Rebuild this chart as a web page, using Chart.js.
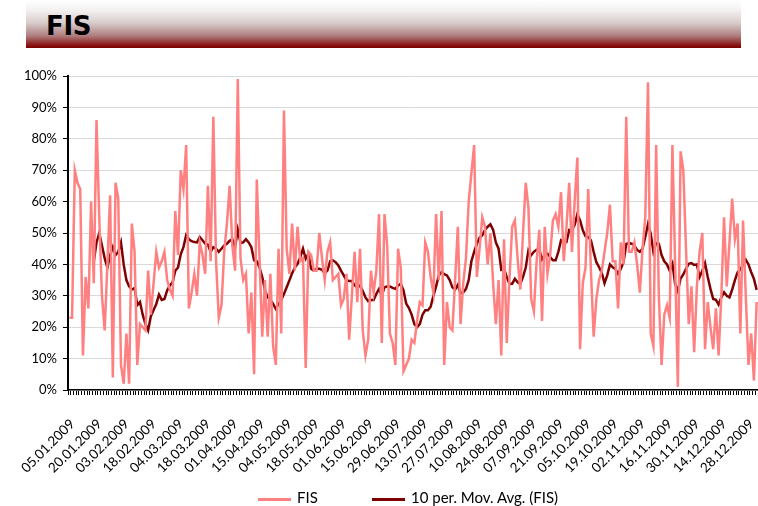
<!DOCTYPE html>
<html>
<head>
<meta charset="utf-8">
<script src="https://cdn.jsdelivr.net/npm/chart.js@4.4.1/dist/chart.umd.min.js"></script>
<style>
  html, body { margin: 0; padding: 0; background: #fff; }
  #wrap { position: relative; width: 758px; height: 506px; overflow: hidden; }
  #header {
    position: absolute; left: 26px; top: 0; width: 715px; height: 48px;
    background: linear-gradient(to bottom, #ffffff 0%, #f3f0f0 22%, #d8cbcb 48%, #ae7c7c 75%, #8c1a1a 93%, #7a0000 100%);
  }
  #header span {
    position: absolute; left: 20px; top: 11px;
    font: bold 26px "DejaVu Sans", sans-serif; color: #000; letter-spacing: -0.3px;
  }
  #chart { position: absolute; left: 0; top: 0; }
  #legend {
    position: absolute; top: 488px; left: 0; width: 758px; height: 18px;
    font: 15px Lato, "Open Sans", sans-serif; color: #000;
  }
  .item { position: absolute; top: 0; line-height: 18px; white-space: nowrap; }
  .sw { display: inline-block; width: 33px; height: 3px; vertical-align: middle; margin-right: 6px; }
</style>
</head>
<body>
<div id="wrap">
  <canvas id="chart" width="758" height="506"></canvas>
  <div id="header"><span>FIS</span></div>
  <div id="legend">
    <div class="item" style="left:258px"><span class="sw" style="background:#ff8080"></span>FIS</div>
    <div class="item" style="left:372px"><span class="sw" style="background:#7f0000"></span>10 per. Mov. Avg. (FIS)</div>
  </div>
</div>
<script>
"use strict";
// tick labels, one every 10 trading days
const tickLabels = ['05.01.2009', '20.01.2009', '03.02.2009', '18.02.2009', '04.03.2009', '18.03.2009',
    '01.04.2009', '15.04.2009', '04.05.2009', '18.05.2009', '01.06.2009', '15.06.2009', '29.06.2009',
    '13.07.2009', '27.07.2009', '10.08.2009', '24.08.2009', '07.09.2009', '21.09.2009', '05.10.2009',
    '19.10.2009', '02.11.2009', '16.11.2009', '30.11.2009', '14.12.2009', '28.12.2009'];

// FIS daily values (%)
const fis = [
    23, 23, 70, 66, 64, 11, 36, 26, 60, 34,
    86, 55, 30, 19, 40, 62, 4, 66, 61, 8,
    2, 18, 2, 53, 44, 8, 21, 20, 19, 38,
    24, 34, 44, 39, 41, 44, 35, 32, 30, 57,
    43, 70, 64, 78, 26, 31, 37, 30, 47, 43,
    37, 65, 41, 87, 41, 23, 27, 44, 53, 65,
    46, 38, 99, 42, 35, 37, 18, 31, 5, 67,
    42, 17, 35, 17, 37, 14, 8, 45, 18, 89,
    45, 37, 53, 38, 52, 41, 42, 7, 44, 43,
    38, 38, 50, 42, 35, 44, 47, 35, 36, 37,
    27, 29, 37, 16, 30, 44, 28, 45, 19, 11,
    16, 38, 31, 38, 56, 15, 56, 46, 18, 15,
    8, 45, 39, 6, 8, 10, 16, 15, 22, 28,
    27, 47, 44, 36, 31, 56, 35, 57, 8, 28,
    20, 19, 35, 52, 21, 34, 42, 60, 69, 78,
    36, 45, 55, 52, 40, 50, 34, 21, 35, 11,
    48, 15, 35, 52, 54, 42, 32, 50, 66, 58,
    29, 25, 41, 51, 22, 52, 37, 43, 54, 56,
    52, 63, 41, 52, 66, 44, 60, 74, 13, 34,
    39, 64, 38, 17, 29, 35, 38, 44, 50, 59,
    41, 41, 26, 47, 40, 87, 44, 44, 47, 40,
    31, 45, 55, 98, 18, 14, 78, 30, 8, 24,
    27, 23, 78, 40, 1, 76, 70, 45, 21, 33,
    12, 33, 44, 50, 13, 28, 20, 13, 26, 11,
    30, 55, 33, 47, 61, 48, 53, 18, 54, 30,
    8, 18, 3, 28
];

// 10 per. moving average as drawn (%), starts at the 10th day
const movAvg = [
    null, null, null, null, null, null, null, null, null, 41,
    47, 50, 46, 42, 39, 43, 45.5, 43, 44, 47,
    40, 35, 33, 32, 32.5, 27, 28, 24, 21, 19,
    23.5, 25.5, 27.4, 30.4, 28.7, 29, 31.7, 33.3, 34.3, 38,
    39, 43.2, 45.5, 49.3, 48, 47.4, 47.1, 47, 48.7, 47.7,
    46.6, 46.3, 44, 45.5, 45, 44, 45, 46, 46.6, 47.5,
    48, 45.5, 51, 46.8, 47, 48, 47, 45.5, 41.3, 41,
    39, 36, 31.7, 29.5, 28.7, 27.4, 25.8, 27.4, 28.7, 30.6,
    32.7, 34.9, 37.2, 39, 40.2, 42.3, 45, 41.8, 43.4, 38.6,
    38, 38.6, 38.6, 38.3, 37.2, 38, 41, 41.3, 40.7, 39.7,
    38, 36.5, 34.9, 34.7, 34.7, 33.3, 32.7, 33.3, 31.5, 29.5,
    28.3, 28.7, 28.7, 30.6, 32.2, 30, 32.7, 33, 33, 32.5,
    32.2, 33.3, 33.8, 31.7, 27.5, 26.1, 24, 21, 20, 21,
    24, 25.4, 25.4, 26.5, 30, 33, 36.5, 37.5, 36.9, 36.5,
    35, 32.7, 32, 33.5, 30.8, 31.1, 32.2, 35, 41, 44,
    46.5, 48.5, 49.3, 51, 52, 52.8, 51, 47, 45, 38.3,
    38.6, 36, 33.8, 33.8, 35.4, 34.3, 33.8, 36, 39, 44.5,
    42.9, 44, 44.7, 44.7, 41.6, 43.1, 43.4, 42.3, 41.3, 41.3,
    44, 47.7, 47.1, 47.1, 51, 50.9, 52.5, 56, 54, 50.9,
    49, 48.7, 47.7, 44, 40.7, 39.1, 37.3, 34, 36.5, 40,
    39.1, 38.6, 37, 38.6, 40.7, 46.5, 46.8, 46.6, 46, 44.6,
    44, 45, 48.7, 52.8, 49.8, 44, 46.8, 46.6, 43, 41,
    40, 38, 40.2, 33.8, 31.5, 35.5, 36.8, 38.6, 40.2, 40.4,
    39.8, 40, 36, 38, 40.4, 36, 32.2, 29, 28.7, 27.2,
    29.5, 31.1, 30, 29.5, 32, 35, 37.5, 38.3, 40, 41.5,
    40, 37.5, 35.4, 31.9
];

const labelEvery = 10;
const categories = fis.map((v, i) => i % labelEvery === 0 ? (tickLabels[i / labelEvery] || '') : '');

const yFont = { family: 'Lato, "Open Sans", sans-serif', size: 13 };
const xFont = { family: 'Lato, "Open Sans", sans-serif', size: 13.5 };

new Chart(document.getElementById('chart').getContext('2d'), {
    type: 'line',
    data: {
        labels: categories,
        datasets: [{
                label: 'FIS',
                data: fis,
                borderColor: '#ff8080',
                borderWidth: 2.5,
                pointRadius: 0,
                tension: 0
            }, {
                label: '10 per. Mov. Avg. (FIS)',
                data: movAvg,
                borderColor: '#7f0000',
                borderWidth: 2.5,
                pointRadius: 0,
                tension: 0
            }]
    },
    options: {
        responsive: false,
        animation: false,
        devicePixelRatio: 1,
        layout: { padding: { top: 76, left: 0, right: 0, bottom: 0 } },
        plugins: { legend: { display: false }, tooltip: { enabled: false } },
        scales: {
            x: {
                offset: true,
                grid: { display: true, drawOnChartArea: false, offset: true, tickLength: 5, tickColor: '#000' },
                border: { color: '#000', width: 1.5 },
                ticks: { autoSkip: false, minRotation: 45, maxRotation: 45, color: '#000', font: xFont, padding: 21, labelOffset: 3 },
                afterFit: (s) => { s.height = 116; s.paddingLeft = 0; s.paddingRight = 0; }
            },
            y: {
                min: 0,
                max: 100,
                grid: { color: '#d9d9d9', lineWidth: 1, tickLength: 5, tickColor: '#000' },
                border: { color: '#000', width: 2 },
                ticks: { stepSize: 10, color: '#000', font: yFont, padding: 6, callback: (v) => v + '%' },
                afterFit: (s) => { s.width = 68; s.paddingTop = 0; s.paddingBottom = 0; }
            }
        }
    }
});
</script>
</body>
</html>
